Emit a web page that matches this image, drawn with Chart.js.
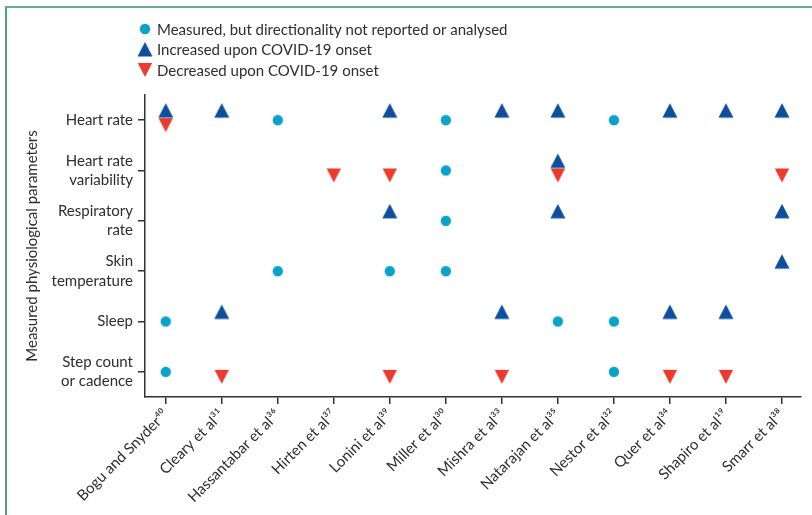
<!DOCTYPE html>
<html>
<head>
<meta charset="utf-8">
<script src="https://cdn.jsdelivr.net/npm/chart.js@4.4.1/dist/chart.umd.min.js"></script>
<style>
    html, body { margin: 0; padding: 0; background: #fff; }
    #wrap { position: relative; width: 812px; height: 515px; overflow: hidden; }
    #frame { position: absolute; left: 5px; top: 6px; right: -10px; bottom: -10px;
             border-top: 2px solid #6aae8c; border-left: 2px solid #4fa27a; }
    #chartBox { position: absolute; left: 0; top: 0; width: 812px; height: 515px; }
</style>
</head>
<body>
<div id="wrap">
    <div id="frame"></div>
    <div id="chartBox"><canvas id="markerChart"></canvas></div>
</div>
<script>
    // studies on the x axis, with their reference numbers
    const studies = ['Bogu and Snyder', 'Cleary et al', 'Hassantabar et al', 'Hirten et al',
        'Lonini et al', 'Miller et al', 'Mishra et al', 'Natarajan et al', 'Nestor et al',
        'Quer et al', 'Shapiro et al', 'Smarr et al'];
    const refNumbers = ['⁴⁰', '³¹', '³⁶', '³⁷', '³⁹', '³⁰', '³³', '³⁵', '³²', '³⁴', '¹⁹', '³⁸'];

    // physiological parameters on the y axis (multi-line labels)
    const parameters = [
        ['Heart rate'],
        ['Heart rate', 'variability'],
        ['Respiratory', 'rate'],
        ['Skin', 'temperature'],
        ['Sleep'],
        ['Step count', 'or cadence']
    ];

    // for each parameter row: indices of the studies that report it
    const measuredStudies  = [[2, 5, 8], [5], [5], [2, 4, 5], [0, 7, 8], [0, 8]];
    const increasedStudies = [[0, 1, 4, 6, 7, 9, 10, 11], [7], [4, 7, 11], [11], [1, 6, 9, 10], []];
    const decreasedStudies = [[0], [3, 4, 7, 11], [], [], [], [1, 4, 6, 9, 10]];

    const seriesLabels = [
        'Measured, but directionality not reported or analysed',
        'Increased upon COVID-19 onset',
        'Decreased upon COVID-19 onset'
    ];

    const colCircle = '#0aa2c8';
    const colUp = '#0d4f9c';
    const colDown = '#ee3a2c';
    const textColor = '#2e2e2e';
    const fontFamily = 'Lato, "Noto Sans", sans-serif';

    // marker images; triangles sit just above / below the row line
    function makeMarker(shape, color, shift) {
        const c = document.createElement('canvas');
        c.width = 20;
        c.height = 40;
        const g = c.getContext('2d');
        const cy = 20 + shift;
        g.fillStyle = color;
        g.beginPath();
        if (shape === 'circle') {
            g.arc(10, cy, 5.2, 0, Math.PI * 2);
        } else if (shape === 'up') {
            g.moveTo(10, cy - 7.5);
            g.lineTo(17.5, cy + 7);
            g.lineTo(2.5, cy + 7);
        } else {
            g.moveTo(2.8, cy - 7);
            g.lineTo(17.2, cy - 7);
            g.lineTo(10, cy + 7);
        }
        g.closePath();
        g.fill();
        return c;
    }

    const markerCircle = makeMarker('circle', colCircle, 0);
    const markerUp = makeMarker('up', colUp, -9.5);
    const markerDown = makeMarker('down', colDown, 5);
    const legendMarkers = [
        makeMarker('circle', colCircle, 0),
        makeMarker('up', colUp, 0),
        makeMarker('down', colDown, 0)
    ];

    function toPoints(rows) {
        const pts = [];
        rows.forEach((cols, row) => cols.forEach(col => pts.push({ x: col, y: row })));
        return pts;
    }

    // legend drawn as a vertical list in the top area
    const stackedLegend = {
        id: 'stackedLegend',
        afterDraw(chart) {
            const ctx = chart.ctx;
            ctx.save();
            ctx.font = '15px ' + fontFamily;
            ctx.fillStyle = textColor;
            ctx.textBaseline = 'middle';
            const ys = [29, 49.5, 70];
            seriesLabels.forEach((label, i) => {
                const img = legendMarkers[i];
                ctx.drawImage(img, 145 - img.width / 2, ys[i] - img.height / 2);
                ctx.fillText(label, 157, ys[i] + 1);
            });
            ctx.restore();
        }
    };

    function createChart() {
        const ctx = document.getElementById('markerChart').getContext('2d');
        const common = { showLine: false, pointRadius: 10, pointHoverRadius: 10 };

        window.markerChart = new Chart(ctx, {
            type: 'scatter',
            data: {
                datasets: [
                    { ...common, label: seriesLabels[0], data: toPoints(measuredStudies), pointStyle: markerCircle },
                    { ...common, label: seriesLabels[1], data: toPoints(increasedStudies), pointStyle: markerUp },
                    { ...common, label: seriesLabels[2], data: toPoints(decreasedStudies), pointStyle: markerDown }
                ]
            },
            options: {
                responsive: false,
                animation: false,
                layout: { padding: { top: 95, right: 7, left: 19, bottom: 0 } },
                plugins: { legend: { display: false }, tooltip: { enabled: false } },
                scales: {
                    x: {
                        type: 'linear',
                        min: -0.37,
                        max: 11.34,
                        afterBuildTicks: scale => { scale.ticks = studies.map((s, i) => ({ value: i })); },
                        afterFit: scale => { scale.height = 118; },
                        border: { display: true, color: '#333', width: 1.5 },
                        grid: { display: true, drawOnChartArea: false, drawTicks: true, tickLength: 7, color: '#333', lineWidth: 1.5 },
                        ticks: {
                            autoSkip: false,
                            minRotation: 45,
                            maxRotation: 45,
                            padding: 2,
                            color: textColor,
                            font: { family: fontFamily, size: 15 },
                            callback: value => studies[value] + refNumbers[value]
                        }
                    },
                    y: {
                        type: 'linear',
                        reverse: true,
                        min: -0.5,
                        max: 5.5,
                        afterBuildTicks: scale => { scale.ticks = parameters.map((p, i) => ({ value: i })); },
                        afterFit: scale => { scale.width = 126; },
                        border: { display: true, color: '#333', width: 1.5 },
                        grid: { display: true, drawOnChartArea: false, drawTicks: true, tickLength: 7, color: '#333', lineWidth: 1.5 },
                        title: {
                            display: true,
                            text: 'Measured physiological parameters',
                            color: textColor,
                            font: { family: fontFamily, size: 15 },
                            padding: { top: 4, bottom: 4 }
                        },
                        ticks: {
                            padding: 5,
                            color: textColor,
                            font: { family: fontFamily, size: 15, lineHeight: 1.3 },
                            callback: value => parameters[value]
                        }
                    }
                }
            },
            plugins: [stackedLegend]
        });
    }

    const cv = document.getElementById('markerChart');
    cv.width = 812;
    cv.height = 515;
    cv.style.width = '812px';
    cv.style.height = '515px';
    createChart();
</script>
</body>
</html>
